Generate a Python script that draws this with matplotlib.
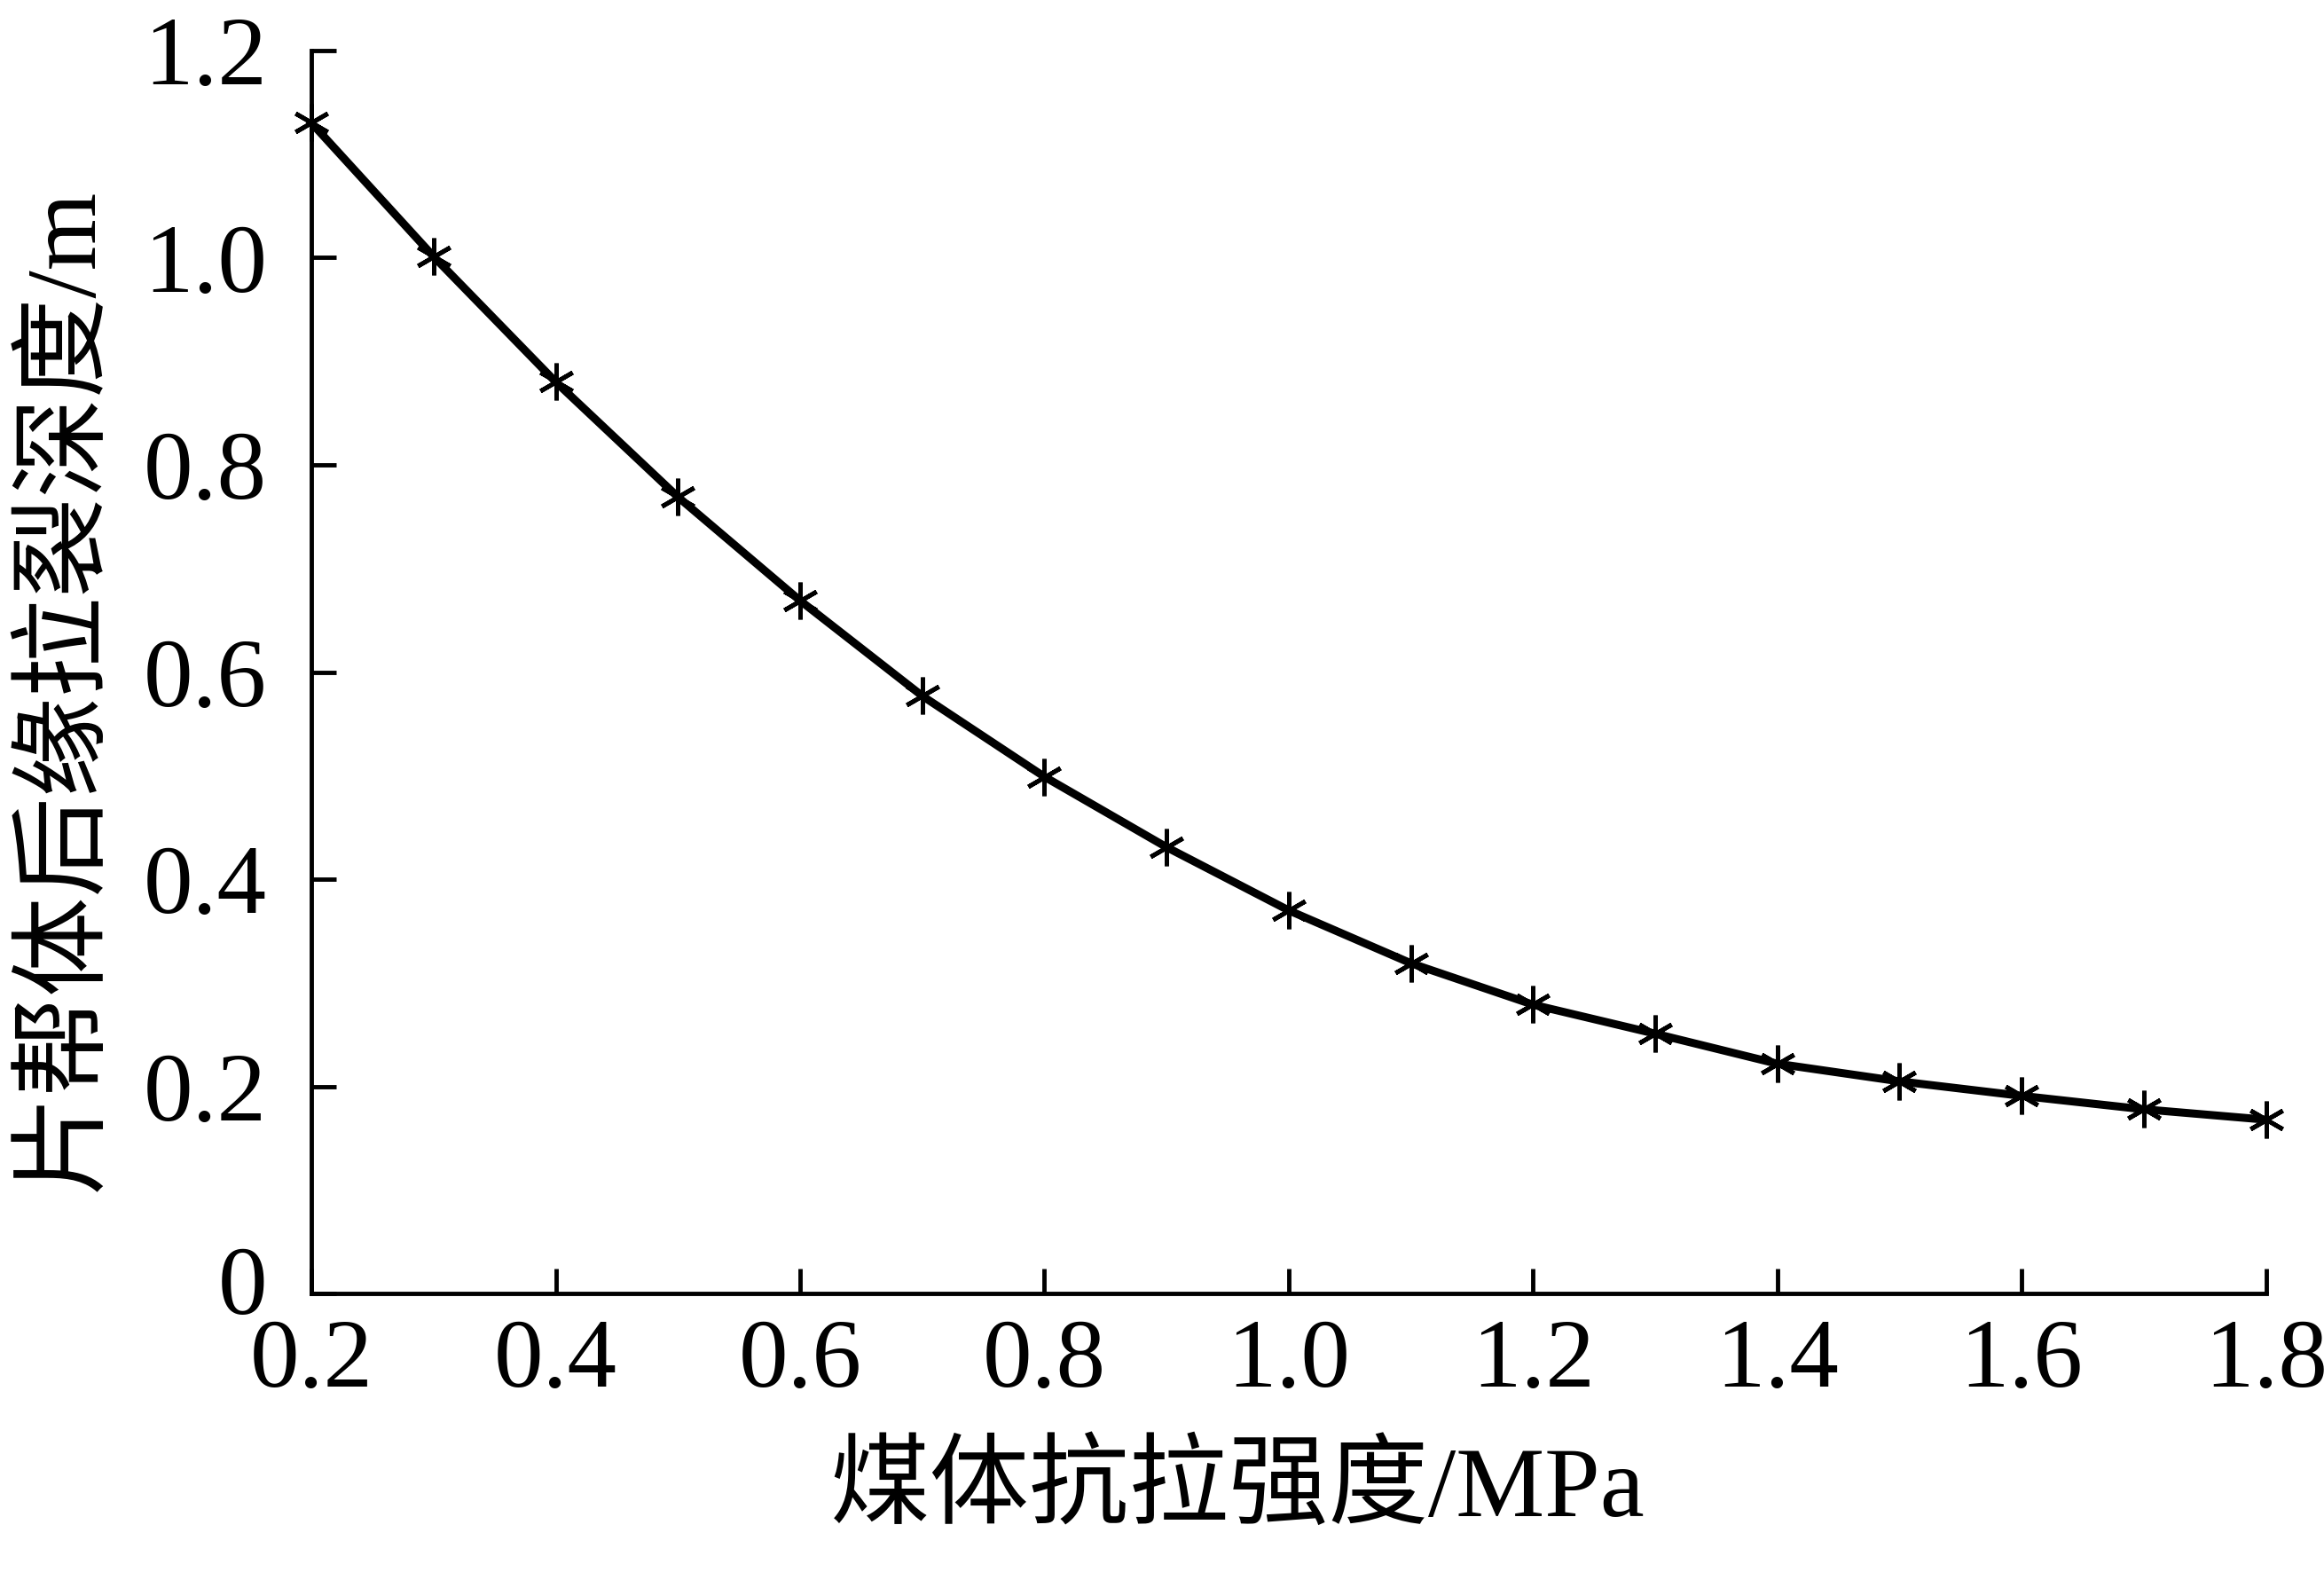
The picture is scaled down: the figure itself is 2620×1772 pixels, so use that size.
import matplotlib
matplotlib.use("Agg")
import matplotlib.pyplot as plt
from matplotlib.transforms import ScaledTranslation

strength = [0.2, 0.3, 0.4, 0.5, 0.6, 0.7, 0.8, 0.9, 1.0, 1.1, 1.2, 1.3, 1.4, 1.5, 1.6, 1.7, 1.8]
depth = [1.130, 1.001, 0.880, 0.769, 0.669, 0.577, 0.499, 0.431, 0.370, 0.319, 0.279,
         0.251, 0.222, 0.205, 0.191, 0.178, 0.168]
xticks = [0.2, 0.4, 0.6, 0.8, 1.0, 1.2, 1.4, 1.6, 1.8]
xticklabels = ["0.2", "0.4", "0.6", "0.8", "1.0", "1.2", "1.4", "1.6", "1.8"]
yticks = [0, 0.2, 0.4, 0.6, 0.8, 1.0, 1.2]
yticklabels = ["0", "0.2", "0.4", "0.6", "0.8", "1.0", "1.2"]
xlabel = "煤体抗拉强度/MPa"
ylabel = "片帮体后缘拉裂深度/m"

fam = ["Liberation Serif", "Noto Sans CJK SC"]
plt.rcParams["font.family"] = fam

fig = plt.figure(figsize=(26.2, 17.72), dpi=100)
ax = fig.add_axes([0.134, 0.177, 0.841, 0.791])

ax.plot(strength, depth, color="black", lw=6.5, marker=(6, 2, 0), markersize=30,
        markeredgewidth=3.5, markeredgecolor="black", clip_on=False, zorder=3)

ax.set_xlim(0.2, 1.8)
ax.set_ylim(0, 1.2)
ax.set_xticks(xticks)
ax.set_xticklabels(xticklabels)
ax.set_yticks(yticks)
ax.set_yticklabels(yticklabels)
ax.tick_params(direction="in", length=20, width=3.5, labelsize=80)
ax.tick_params(axis="x", pad=20)
ax.tick_params(axis="y", pad=36)
for s in ["top", "right"]:
    ax.spines[s].set_visible(False)
for s in ["left", "bottom"]:
    ax.spines[s].set_linewidth(3.5)

# lift the "0" label slightly, as in the reference
zero_lbl = ax.get_yticklabels()[0]
zero_lbl.set_transform(zero_lbl.get_transform() + ScaledTranslation(0, 0.16, fig.dpi_scale_trans))

ax.set_xlabel(xlabel, fontsize=81, family=fam)
ax.set_ylabel(ylabel, fontsize=81, family=fam)
ax.xaxis.label.set_va("center")
ax.xaxis.label.set_ha("center")
ax.yaxis.label.set_va("center")
ax.yaxis.label.set_ha("center")
ax.xaxis.set_label_coords(0.474, -0.158)
ax.yaxis.set_label_coords(-0.125, 0.486)

fig.savefig("out.png", dpi=100)
